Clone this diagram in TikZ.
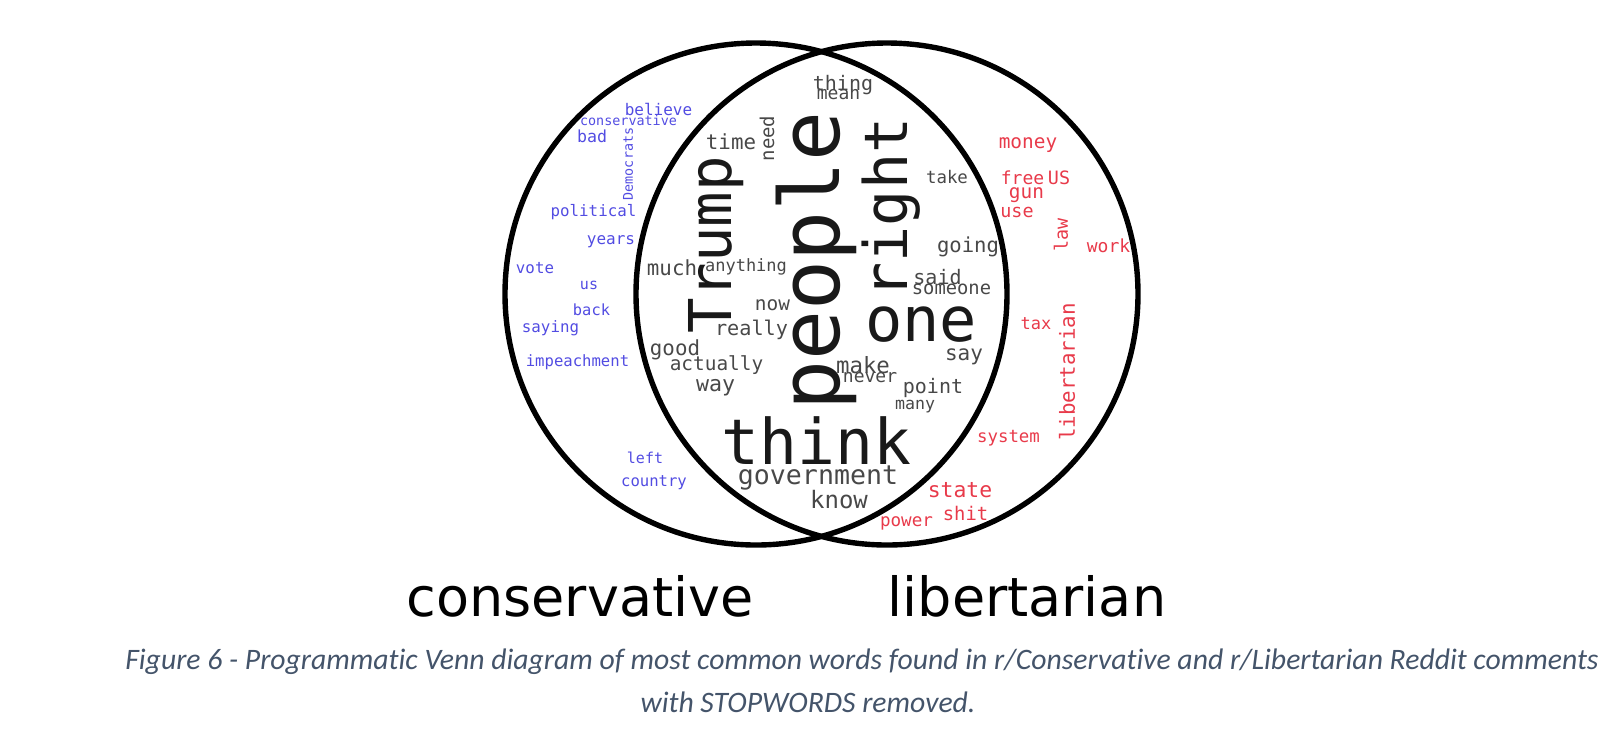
\documentclass[tikz,border=0pt]{standalone}
\usepackage{fontspec}
\setmainfont{DejaVu Sans}
\newfontfamily\wcfont{DejaVu Sans Mono}
\newfontfamily\capfont[Ligatures=NoCommon]{Carlito}
\definecolor{wblue}{RGB}{82,76,226}
\definecolor{wred}{RGB}{232,58,74}
\definecolor{wgray}{RGB}{72,72,72}
\definecolor{wdark}{RGB}{25,25,25}
\definecolor{capcol}{RGB}{68,84,106}
\newcommand{\wsz}[1]{\wcfont\fontsize{#1}{#1}\selectfont}
\tikzset{
  wd/.style={inner sep=0pt, outer sep=0pt},
  bw/.style={wd, text=wblue},
  rw/.style={wd, text=wred},
  gw/.style={wd, text=wgray},
  kw/.style={wd, text=wdark},
  venn/.style={circle, draw=black, line width=2.7pt, minimum size=251pt, inner sep=0pt},
  lab/.style={inner sep=0pt, font=\fontsize{27}{27}\selectfont, anchor=base},
  captxt/.style={inner sep=0pt, text=capcol, font=\capfont\itshape\fontsize{14.85}{14.85}\selectfont, anchor=base}
}
\begin{document}
\begin{tikzpicture}[x=0.5pt,y=-0.5pt]
\useasboundingbox (0,0) rectangle (1618,736);
% conservative words
\node[bw, font=\wsz{8}] (w-believe) at (658.5,109) {believe};
\node[bw, font=\wsz{6.7}] (w-conservative) at (628.5,120) {conservative};
\node[bw, font=\wsz{8.3}] (w-bad) at (592,136) {bad};
\node[bw, font=\wsz{6.7}, rotate=90] (w-democrats) at (628,164) {Democrats};
\node[bw, font=\wsz{7.9}] (w-political) at (593.5,212) {political};
\node[bw, font=\wsz{8}] (w-years) at (611,242) {years};
\node[bw, font=\wsz{7.9}] (w-vote) at (535,268) {vote};
\node[bw, font=\wsz{7.5}] (w-us) at (589,285) {us};
\node[bw, font=\wsz{7.7}] (w-back) at (591.5,310) {back};
\node[bw, font=\wsz{7.9}] (w-saying) at (550.5,328) {saying};
\node[bw, font=\wsz{7.8}] (w-impeachment) at (577.5,362) {impeachment};
\node[bw, font=\wsz{7.5}] (w-left) at (645,458) {left};
\node[bw, font=\wsz{7.8}] (w-country) at (654,483) {country};
% shared words
\node[gw, font=\wsz{10}] (w-thing) at (843,85) {thing};
\node[gw, font=\wsz{9}] (w-mean) at (838.5,95) {mean};
\node[gw, font=\wsz{10.4}] (w-time) at (731,142) {time};
\node[gw, font=\wsz{9.5}, rotate=90] (w-need) at (767,138.5) {need};
\node[kw, font=\wsz{41.5}, rotate=90] (w-people) at (816,261) {people};
\node[kw, font=\wsz{30}, rotate=90] (w-right) at (891,208) {right};
\node[kw, font=\wsz{29.5}, rotate=90] (w-trump) at (716.5,245) {Trump};
\node[gw, font=\wsz{10.4}] (w-much) at (672,268) {much};
\node[gw, font=\wsz{8.5}] (w-anything) at (746,267) {anything};
\node[gw, font=\wsz{8.7}] (w-take) at (947,177) {take};
\node[gw, font=\wsz{10.3}] (w-going) at (968,247) {going};
\node[gw, font=\wsz{10}] (w-said) at (937.5,277) {said};
\node[gw, font=\wsz{9.4}] (w-someone) at (951.5,289) {someone};
\node[kw, font=\wsz{31}] (w-one) at (921,325) {one};
\node[gw, font=\wsz{10.5}] (w-say) at (964,357) {say};
\node[gw, font=\wsz{9.7}] (w-now) at (772.5,305) {now};
\node[gw, font=\wsz{10.1}] (w-really) at (751.5,330) {really};
\node[gw, font=\wsz{10.4}] (w-good) at (675,350) {good};
\node[gw, font=\wsz{9.7}] (w-actually) at (716.5,365) {actually};
\node[gw, font=\wsz{10.8}] (w-way) at (715.5,388) {way};
\node[gw, font=\wsz{11.2}] (w-make) at (863,365) {make};
\node[gw, font=\wsz{9}] (w-never) at (870,378) {never};
\node[gw, font=\wsz{10}] (w-point) at (933,388) {point};
\node[gw, font=\wsz{8.3}] (w-many) at (915,407) {many};
\node[kw, font=\wsz{31.5}] (w-think) at (816.5,441) {think};
\node[gw, font=\wsz{13.3}] (w-government) at (818,478) {government};
\node[gw, font=\wsz{12}] (w-know) at (839,500) {know};
% libertarian words
\node[rw, font=\wsz{9.7}] (w-money) at (1028,145) {money};
\node[rw, font=\wsz{9}] (w-free) at (1022.5,178) {free};
\node[rw, font=\wsz{9.2}] (w-US) at (1059,178) {US};
\node[rw, font=\wsz{9.7}] (w-gun) at (1026.5,195) {gun};
\node[rw, font=\wsz{9.2}] (w-use) at (1017,212) {use};
\node[rw, font=\wsz{9.2}, rotate=90] (w-law) at (1061,235) {law};
\node[rw, font=\wsz{9}] (w-work) at (1108.5,246) {work};
\node[rw, font=\wsz{8.5}] (w-tax) at (1036,324) {tax};
\node[rw, font=\wsz{10.4}, rotate=90] (w-libertarian) at (1067,372) {libertarian};
\node[rw, font=\wsz{8.7}] (w-system) at (1008.5,438) {system};
\node[rw, font=\wsz{10.7}] (w-state) at (960,490) {state};
\node[rw, font=\wsz{9.4}] (w-shit) at (965.5,513) {shit};
\node[rw, font=\wsz{8.8}] (w-power) at (906.5,523) {power};
% circles
\node[venn] (cons) at (756,294) {};
\node[venn] (lib) at (887,294) {};
% labels
\node[lab] (l-cons) at (580,616) {conservative};
\node[lab] (l-lib) at (1027,616) {libertarian};
% caption
\node[captxt] (cap1) at (862,669) {Figure 6 - Programmatic Venn diagram of most common words found in r/Conservative and r/Libertarian Reddit comments};
\node[captxt] (cap2) at (808,712) {with STOPWORDS removed.};
\end{tikzpicture}
\end{document}
